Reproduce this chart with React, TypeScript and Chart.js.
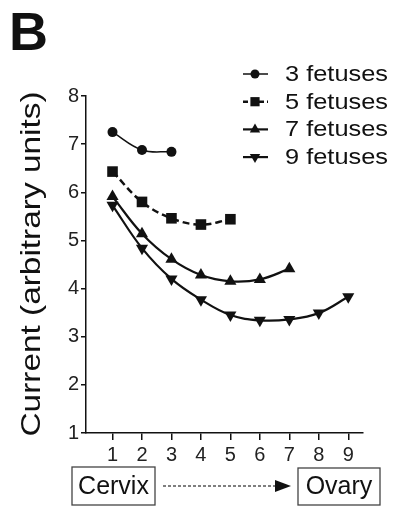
import React, { useEffect, useRef } from 'react';
import { Chart, registerables } from 'chart.js';

Chart.register(...registerables);

// ---- data ----
const positions = [1, 2, 3, 4, 5, 6, 7, 8, 9];
const seriesLabels = ['3 fetuses', '5 fetuses', '7 fetuses', '9 fetuses'];
const fetus3 = [7.25, 6.88, 6.84];
const fetus5 = [6.43, 5.8, 5.46, 5.33, 5.44];
const fetus7 = [5.91, 5.14, 4.61, 4.28, 4.15, 4.19, 4.41];
const fetus9 = [5.73, 4.84, 4.2, 3.77, 3.45, 3.34, 3.36, 3.49, 3.83];
const yMin = 1;
const yMax = 8;
const yAxisTitle = 'Current (arbitrary units)';
const panelLabel = 'B';
const startLabel = 'Cervix';
const endLabel = 'Ovary';

const FONT = "'Liberation Sans', Arial, Helvetica, sans-serif";
const INK = '#111';

const seriesValues = [fetus3, fetus5, fetus7, fetus9];
const pointStyles = ['circle', 'rect', 'triangle', 'triangle'];
const pointRotations = [0, 0, 0, 180];
const pointRadii = [5, 7.5, 7, 7];
const lineWidths = [1.5, 2.5, 2.2, 2.2];
const lineDashes: number[][] = [[], [7, 4], [], []];

function drawMarker(ctx: CanvasRenderingContext2D, style: string, rot: number, x: number, y: number, r: number) {
  ctx.save();
  ctx.translate(x, y);
  ctx.rotate((rot * Math.PI) / 180);
  ctx.beginPath();
  if (style === 'circle') {
    ctx.arc(0, 0, r, 0, Math.PI * 2);
  } else if (style === 'rect') {
    const s = Math.SQRT1_2 * r;
    ctx.rect(-s, -s, 2 * s, 2 * s);
  } else {
    for (let k = 0; k < 3; k++) {
      const a = (k * 2 * Math.PI) / 3;
      const px = Math.sin(a) * r;
      const py = -Math.cos(a) * r;
      if (k === 0) ctx.moveTo(px, py);
      else ctx.lineTo(px, py);
    }
    ctx.closePath();
  }
  ctx.fillStyle = INK;
  ctx.fill();
  ctx.restore();
}

const decorPlugin = {
  id: 'decor',
  afterDraw(chart: any) {
    const ctx: CanvasRenderingContext2D = chart.ctx;
    ctx.save();
    ctx.fillStyle = INK;
    ctx.strokeStyle = INK;

    // panel label
    ctx.font = `bold 54px ${FONT}`;
    ctx.textAlign = 'left';
    ctx.textBaseline = 'alphabetic';
    ctx.fillText(panelLabel, 9, 50);

    // y axis title (stretched)
    ctx.save();
    ctx.translate(32, 264);
    ctx.rotate(-Math.PI / 2);
    ctx.font = `28px ${FONT}`;
    ctx.textAlign = 'center';
    ctx.textBaseline = 'middle';
    const tw = ctx.measureText(yAxisTitle).width;
    ctx.scale(345 / tw, 1);
    ctx.fillText(yAxisTitle, 0, 0);
    ctx.restore();

    // legend
    const ds = chart.data.datasets;
    for (let i = 0; i < ds.length; i++) {
      const y = 74 + i * 27.7;
      ctx.save();
      ctx.lineWidth = lineWidths[i];
      ctx.setLineDash(lineDashes[i].length ? [5, 3] : []);
      ctx.beginPath();
      ctx.moveTo(243, y);
      ctx.lineTo(268, y);
      ctx.stroke();
      ctx.restore();
      drawMarker(ctx, pointStyles[i], pointRotations[i], 255, y, pointStyles[i] === 'circle' ? 4.5 : pointStyles[i] === 'rect' ? 6.5 : 6);
      ctx.save();
      ctx.font = `22px ${FONT}`;
      ctx.textAlign = 'left';
      ctx.textBaseline = 'middle';
      const w = ctx.measureText(ds[i].label).width;
      ctx.translate(285, y + 1);
      ctx.scale(103 / w, 1);
      ctx.fillText(ds[i].label, 0, 0);
      ctx.restore();
    }

    // bottom boxes and arrow
    ctx.save();
    ctx.strokeStyle = '#444';
    ctx.lineWidth = 1.3;
    ctx.strokeRect(72, 467, 83, 38);
    ctx.strokeRect(298, 468, 82, 37);
    ctx.font = `25px ${FONT}`;
    ctx.textAlign = 'center';
    ctx.textBaseline = 'middle';
    ctx.fillStyle = INK;
    ctx.fillText(startLabel, 113.5, 487);
    ctx.fillText(endLabel, 339, 487);
    ctx.setLineDash([3, 2]);
    ctx.lineWidth = 1.3;
    ctx.strokeStyle = '#555';
    ctx.beginPath();
    ctx.moveTo(163, 486);
    ctx.lineTo(276, 486);
    ctx.stroke();
    ctx.setLineDash([]);
    ctx.beginPath();
    ctx.moveTo(275, 480);
    ctx.lineTo(291, 486);
    ctx.lineTo(275, 492);
    ctx.closePath();
    ctx.fillStyle = INK;
    ctx.fill();
    ctx.restore();

    ctx.restore();
  },
};

export default function App() {
  const ref = useRef<HTMLCanvasElement | null>(null);

  useEffect(() => {
    if (!ref.current) return;
    const datasets = seriesValues.map((vals, i) => ({
      label: seriesLabels[i],
      data: vals.map((v, j) => ({ x: positions[j], y: v })),
      borderColor: INK,
      backgroundColor: INK,
      borderWidth: lineWidths[i],
      borderDash: lineDashes[i],
      tension: 0.4,
      pointStyle: pointStyles[i] as any,
      rotation: pointRotations[i],
      pointRadius: pointRadii[i],
      pointBorderWidth: 0,
      pointBackgroundColor: INK,
      fill: false,
    }));

    const chart = new Chart(ref.current, {
      type: 'line',
      data: { datasets },
      plugins: [decorPlugin],
      options: {
        animation: false,
        responsive: false,
        maintainAspectRatio: false,
        events: [],
        layout: { padding: { left: 0, top: 96, right: 31, bottom: 46 } },
        plugins: {
          legend: { display: false },
          tooltip: { enabled: false },
          title: { display: false },
        },
        scales: {
          x: {
            type: 'linear',
            min: 0.1,
            max: 9.5,
            afterBuildTicks: (s: any) => {
              s.ticks = positions.map((v) => ({ value: v }));
            },
            afterFit: (s: any) => {
              s.height = 30;
            },
            ticks: {
              color: '#222',
              font: { family: FONT, size: 20 },
              padding: 3,
              maxRotation: 0,
              autoSkip: false,
            },
            grid: {
              drawOnChartArea: false,
              drawTicks: true,
              tickLength: 7,
              color: INK,
              lineWidth: 1.5,
            },
            border: { display: true, color: INK, width: 1.5 },
          },
          y: {
            type: 'linear',
            min: yMin,
            max: yMax,
            afterFit: (s: any) => {
              s.width = 86;
            },
            ticks: {
              stepSize: 1,
              color: '#222',
              font: { family: FONT, size: 20 },
              padding: 2,
            },
            grid: {
              drawOnChartArea: false,
              drawTicks: true,
              tickLength: 5,
              color: INK,
              lineWidth: 1.5,
            },
            border: { display: true, color: INK, width: 1.5 },
          },
        },
      },
    });
    return () => chart.destroy();
  }, []);

  return (
    <div style={{ position: 'fixed', left: 0, top: 0, width: 394, height: 509, background: '#fff' }}>
      <canvas ref={ref} width={394} height={509} style={{ display: 'block', width: 394, height: 509 }} />
    </div>
  );
}
